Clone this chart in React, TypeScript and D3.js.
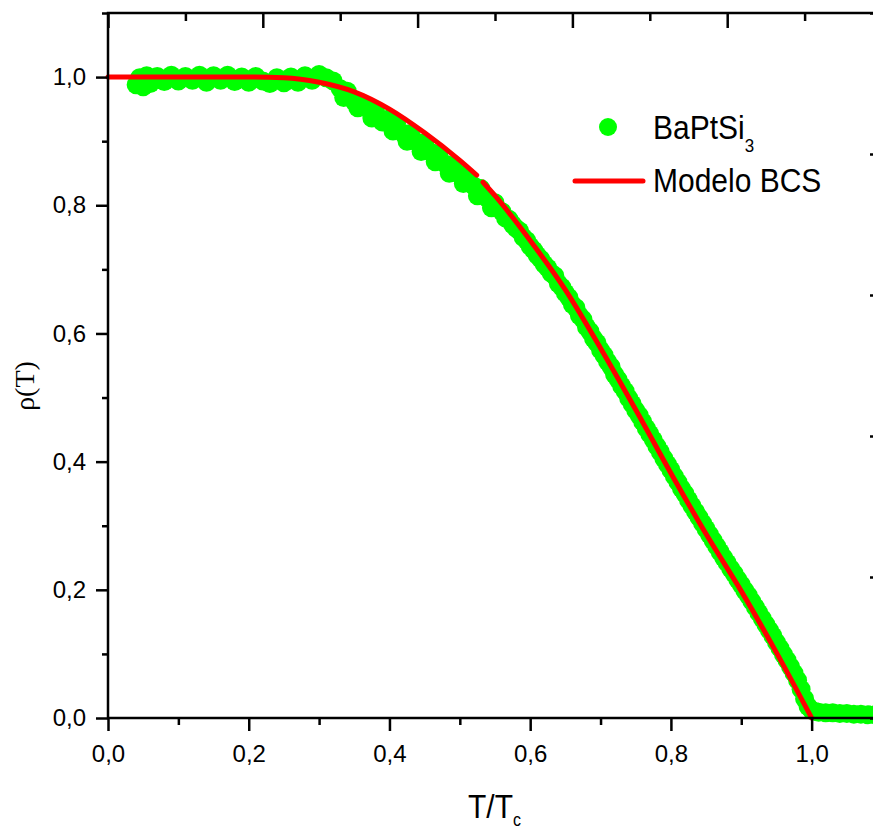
import { axisBottom, axisLeft, axisRight, axisTop, line, curveMonotoneX, scaleLinear, select, format } from "d3";
import { useEffect, useRef } from "react";

// BCS model curve (red); NaN marks the small break in the line
const bcsT = [0, 0.05, 0.1, 0.15, 0.2, 0.25, 0.3, 0.35, 0.4, 0.45, 0.5, 0.524, 0.528, 0.533, 0.55, 0.6, 0.65, 0.7, 0.75, 0.8, 0.85, 0.9, 0.95, 1.0];
const bcsRho = [1, 1, 1, 1, 1, 0.999, 0.992, 0.977, 0.95, 0.913, 0.87, 0.847, NaN, 0.836, 0.815, 0.745, 0.668, 0.577, 0.481, 0.382, 0.287, 0.198, 0.102, 0.0];

// measured points BaPtSi3 (green)
const dataT = [
  0.04, 0.045, 0.05, 0.055, 0.06, 0.07, 0.08, 0.09, 0.1, 0.11, 0.12, 0.13, 0.14, 0.15, 0.16, 0.17, 0.18, 0.19, 0.2,
  0.21, 0.22, 0.23, 0.24, 0.25, 0.26, 0.27, 0.28, 0.29, 0.3, 0.31, 0.32,
  0.33, 0.335, 0.34, 0.35, 0.355, 0.36, 0.37, 0.375, 0.38, 0.39, 0.4, 0.405, 0.41, 0.42, 0.425, 0.43, 0.44, 0.445,
  0.45, 0.46, 0.465, 0.47, 0.48, 0.485, 0.49, 0.5, 0.505, 0.51, 0.52, 0.525, 0.53, 0.54, 0.545, 0.55, 0.56, 0.565, 0.57,
  0.575, 0.58, 0.585, 0.59, 0.595, 0.6, 0.605, 0.61, 0.615, 0.62, 0.625, 0.63, 0.635, 0.64, 0.645, 0.65, 0.655,
  0.66, 0.665, 0.67, 0.675, 0.68, 0.685, 0.69, 0.695, 0.7, 0.705, 0.71, 0.715, 0.72, 0.725, 0.73, 0.735, 0.74,
  0.745, 0.75, 0.755, 0.76, 0.765, 0.77, 0.775, 0.78, 0.785, 0.79, 0.795, 0.8, 0.805, 0.81, 0.815, 0.82, 0.825,
  0.83, 0.835, 0.84, 0.845, 0.85, 0.855, 0.86, 0.865, 0.87, 0.875, 0.88, 0.885, 0.89, 0.895, 0.9, 0.905, 0.91,
  0.915, 0.92, 0.925, 0.93, 0.935, 0.94, 0.945, 0.95, 0.955, 0.96, 0.965, 0.97, 0.975, 0.98, 0.985, 0.99, 0.995,
  1.0, 1.005, 1.01, 1.02, 1.03, 1.04, 1.05, 1.06, 1.07, 1.08, 1.09, 1.1,
];
const dataRho = [
  0.988, 0.999, 0.985, 1.002, 0.99, 1.001, 0.993, 1.003, 0.994, 1.001, 0.995, 1.003, 0.992, 1.002, 0.995, 1.003, 0.993, 1.0, 0.992,
  1.001, 0.994, 0.99, 0.999, 0.991, 1.0, 0.992, 1.002, 0.995, 1.004, 0.999, 0.994,
  0.982, 0.968, 0.978, 0.962, 0.952, 0.96, 0.95, 0.936, 0.948, 0.93, 0.935, 0.916, 0.928, 0.912, 0.9, 0.912, 0.898, 0.884,
  0.897, 0.882, 0.868, 0.88, 0.864, 0.85, 0.862, 0.848, 0.834, 0.845, 0.83, 0.815, 0.826, 0.81, 0.796, 0.804, 0.79, 0.78, 0.778,
  0.77, 0.764, 0.76, 0.75, 0.745, 0.736, 0.73, 0.722, 0.716, 0.708, 0.702, 0.694, 0.69, 0.678, 0.672, 0.663, 0.656,
  0.645, 0.64, 0.628, 0.622, 0.61, 0.603, 0.592, 0.585, 0.574, 0.566, 0.556, 0.548, 0.536, 0.528, 0.518, 0.51, 0.499,
  0.49, 0.48, 0.472, 0.462, 0.452, 0.443, 0.434, 0.424, 0.415, 0.405, 0.396, 0.387, 0.377, 0.368, 0.358, 0.35, 0.34,
  0.331, 0.322, 0.313, 0.304, 0.295, 0.286, 0.277, 0.268, 0.259, 0.25, 0.242, 0.233, 0.225, 0.216, 0.208, 0.199, 0.191,
  0.182, 0.173, 0.164, 0.155, 0.146, 0.137, 0.128, 0.118, 0.109, 0.099, 0.09, 0.08, 0.07, 0.059, 0.045, 0.03, 0.018,
  0.012, 0.01, 0.009, 0.008, 0.008, 0.007, 0.007, 0.006, 0.006, 0.005, 0.005, 0.005,
];

const majorTicks = [0, 0.2, 0.4, 0.6, 0.8, 1.0];
const minorTicks = [0.1, 0.3, 0.5, 0.7, 0.9, 1.1];

const W = 873;
const H = 831;
const left = 108, right = 882, top = 13, bottom = 718;
const sans = "'Liberation Sans', Arial, sans-serif";

const App = () => {
  const axesRef = useRef<SVGGElement>(null);

  const x = scaleLinear().domain([0, 1.1]).range([left, right]);
  const y = scaleLinear().domain([0, 1.1]).range([bottom, top]);
  // top / right axes are on their own 0..1 scale
  const xTop = scaleLinear().domain([0, 1]).range([left, right]);
  const yRight = scaleLinear().domain([0, 1]).range([bottom, top]);

  const fmt = (d: number) => format(".1f")(d).replace(".", ",");

  const bcsLine = line<number>()
    .defined((d, i) => !isNaN(bcsRho[i]))
    .x((d, i) => x(bcsT[i]))
    .y((d, i) => y(bcsRho[i]))
    .curve(curveMonotoneX);

  useEffect(() => {
    const g = select(axesRef.current);
    g.selectAll("*").remove();

    const style = (sel: any) => {
      sel.select(".domain").remove();
      sel.selectAll("line").attr("stroke", "#000").attr("stroke-width", 2.5);
      sel.selectAll("text").attr("font-family", sans).attr("font-size", 24).attr("fill", "#000");
    };

    g.append("g").attr("transform", `translate(0,${bottom})`)
      .call(axisBottom(x).tickValues(majorTicks).tickSize(13).tickPadding(14).tickFormat(fmt as any)).call(style);
    g.append("g").attr("transform", `translate(0,${bottom})`)
      .call(axisBottom(x).tickValues(minorTicks).tickSize(7).tickFormat(() => "")).call(style);

    g.append("g").attr("transform", `translate(${left},0)`)
      .call(axisLeft(y).tickValues(majorTicks).tickSize(12).tickPadding(10).tickFormat(fmt as any)).call(style);
    g.append("g").attr("transform", `translate(${left},0)`)
      .call(axisLeft(y).tickValues(minorTicks).tickSize(6).tickFormat(() => "")).call(style);

    g.append("g").attr("transform", `translate(0,${top})`)
      .call(axisTop(xTop).tickValues(majorTicks).tickSize(-15).tickFormat(() => "")).call(style);
    g.append("g").attr("transform", `translate(0,${top})`)
      .call(axisTop(xTop).tickValues([0.1, 0.3, 0.5, 0.7, 0.9]).tickSize(-8).tickFormat(() => "")).call(style);

    g.append("g").attr("transform", `translate(${right},0)`)
      .call(axisRight(yRight).tickValues(majorTicks).tickSize(-12).tickFormat(() => "")).call(style);
    g.append("g").attr("transform", `translate(${right},0)`)
      .call(axisRight(yRight).tickValues([0.1, 0.3, 0.5, 0.7, 0.9]).tickSize(-6).tickFormat(() => "")).call(style);

    // frame
    g.append("rect")
      .attr("x", left).attr("y", top)
      .attr("width", right - left).attr("height", bottom - top)
      .attr("fill", "none").attr("stroke", "#000").attr("stroke-width", 2.5);
  }, []);

  return (
    <svg width={W} height={H} style={{ position: "absolute", left: 0, top: 0, background: "#fff" }}>
      <g>
        {dataT.map((t, i) => (
          <circle key={i} cx={x(t)} cy={y(dataRho[i])} r={9.5} fill="#00ff00" />
        ))}
      </g>
      <path d={bcsLine(bcsT) || ""} fill="none" stroke="#ff0000" strokeWidth={5} strokeLinecap="round" />
      <g ref={axesRef}></g>

      {/* legend */}
      <circle cx={608} cy={127} r={9} fill="#00ff00" />
      <g transform="translate(653,139) scale(1,1.12)">
        <text fontFamily={sans} fontSize={30} fill="#000">
          BaPtSi<tspan fontSize={17} dy={12}>3</tspan>
        </text>
      </g>
      <line x1={575} x2={643} y1={181} y2={181} stroke="#ff0000" strokeWidth={5} strokeLinecap="round" />
      <g transform="translate(653,192) scale(1,1.12)">
        <text fontFamily={sans} fontSize={30} fill="#000">Modelo BCS</text>
      </g>

      {/* axis titles */}
      <g transform="translate(468,818) scale(1,1.12)">
        <text fontFamily={sans} fontSize={30} fill="#000">
          T/T<tspan fontSize={16} dy={7}>c</tspan>
        </text>
      </g>
      <text
        transform="translate(34,386) rotate(-90)"
        textAnchor="middle"
        fontFamily="'Liberation Serif', 'Times New Roman', serif"
        fontSize={28}
        fill="#000"
      >
        ρ(T)
      </text>
    </svg>
  );
};

export default App;
